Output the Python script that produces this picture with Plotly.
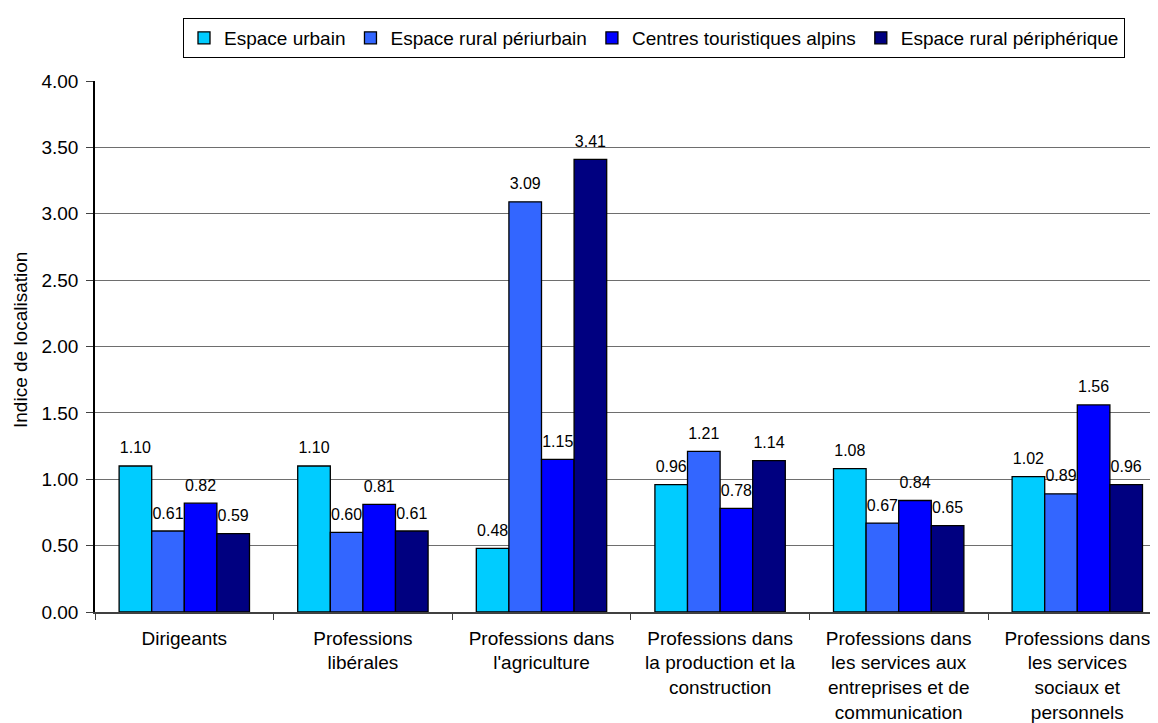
import plotly.graph_objects as go

categories = [
    "Dirigeants",
    "Professions<br>libérales",
    "Professions dans<br>l'agriculture",
    "Professions dans<br>la production et la<br>construction",
    "Professions dans<br>les services aux<br>entreprises et de<br>communication",
    "Professions dans<br>les services<br>sociaux et<br>personnels",
]
series_names = [
    "Espace urbain",
    "Espace rural périurbain",
    "Centres touristiques alpins",
    "Espace rural périphérique",
]
espace_urbain = [1.10, 1.10, 0.48, 0.96, 1.08, 1.02]
rural_periurbain = [0.61, 0.60, 3.09, 1.21, 0.67, 0.89]
centres_alpins = [0.82, 0.81, 1.15, 0.78, 0.84, 1.56]
rural_peripherique = [0.59, 0.61, 3.41, 1.14, 0.65, 0.96]
series_values = [espace_urbain, rural_periurbain, centres_alpins, rural_peripherique]
colors = ["#00CCFF", "#3366FF", "#0000FF", "#000080"]
y_ticks = [0, 0.5, 1, 1.5, 2, 2.5, 3, 3.5, 4]

FONT = "Arial, 'Liberation Sans', sans-serif"

W, H = 1158, 723
L, R, T, B = 87, 0, 73, 119
cat_px = 178.6
plot_w = W - L - R
plot_h = H - T - B
GAP = 0.27

fig = go.Figure()
for i, (name, vals, col) in enumerate(zip(series_names, series_values, colors)):
    fig.add_trace(go.Bar(
        name=name, x=categories, y=vals, offsetgroup=str(i),
        marker=dict(color=col, line=dict(color="black", width=1.3)),
        hoverinfo="skip",
    ))
for i, vals in enumerate(series_values):
    fig.add_trace(go.Scatter(
        x=categories, y=vals, offsetgroup=str(i), mode="markers+text",
        texttemplate="%{y:.2f}", textposition="top center",
        textfont=dict(size=16, color="black", family=FONT),
        marker=dict(size=12, color="rgba(0,0,0,0)"),
        showlegend=False, hoverinfo="skip", cliponaxis=False,
    ))

fig.update_layout(
    width=W, height=H, autosize=False,
    margin=dict(l=L, r=R, t=T, b=B, pad=0),
    paper_bgcolor="white", plot_bgcolor="white",
    font=dict(family=FONT, size=19, color="black"),
    barmode="group", bargap=GAP, bargroupgap=0,
    scattermode="group", scattergap=GAP,
    showlegend=True,
    legend=dict(
        orientation="h", x=(175 - L) / plot_w, xanchor="left",
        y=(H - B - 10) / plot_h, yanchor="top",
        bgcolor="white", bordercolor="black", borderwidth=1,
        font=dict(size=19, family=FONT), traceorder="normal",
        itemclick=False,
    ),
    xaxis=dict(
        range=[-0.5, -0.5 + plot_w / cat_px],
        showline=True, linecolor="#404040", linewidth=1.5,
        ticks="outside", tickson="boundaries", ticklen=6, tickcolor="#404040",
        showgrid=False, tickfont=dict(size=19), ticklabelstandoff=8,
    ),
    yaxis=dict(
        range=[0, 4], tickvals=y_ticks, tickformat=".2f",
        showline=True, linecolor="black", linewidth=1.5,
        ticks="outside", ticklen=7, tickcolor="#404040",
        showgrid=True, gridcolor="#6e6e6e", gridwidth=1.2,
        zeroline=False, tickfont=dict(size=19),
        ticklabelstandoff=4,
    ),
    annotations=[dict(
        text="Indice de localisation", textangle=-90,
        xref="paper", yref="paper",
        x=(12 - L) / plot_w, y=(H - B - 332) / plot_h,
        xanchor="center", yanchor="middle", showarrow=False,
        font=dict(size=19, family=FONT, color="black"),
    )],
)

fig.write_html("out.html")
